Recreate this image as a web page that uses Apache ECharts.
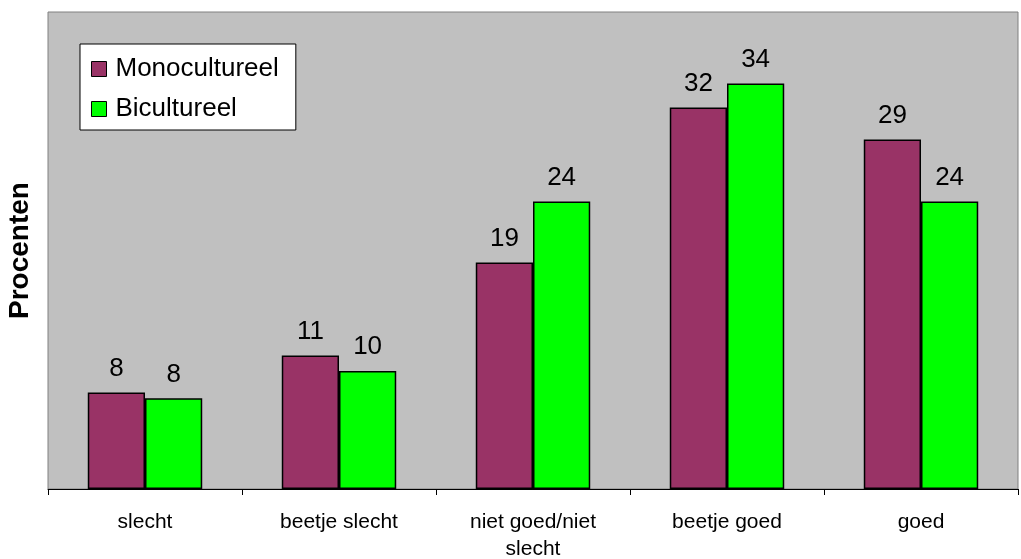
<!DOCTYPE html>
<html>
<head>
<meta charset="utf-8">
<script src="https://cdn.jsdelivr.net/npm/echarts@6/dist/echarts.min.js"></script>
<style>
  html, body { margin: 0; padding: 0; background: #fff; }
  #chart { width: 1021px; height: 559px; }
</style>
</head>
<body>
<div id="chart"></div>
<script>
// categorieen en percentages
var categories = ['slecht', 'beetje slecht', 'niet goed/niet\nslecht', 'beetje goed', 'goed'];
var mono = [8.1, 11.2, 19.0, 32.0, 29.3];
var bi = [7.6, 9.9, 24.1, 34.0, 24.1];

var myChart = echarts.init(document.getElementById('chart'));

var labelStyle = {
    show: true,
    position: 'top',
    distance: 11,
    color: '#000',
    fontSize: 26,
    fontFamily: 'Liberation Sans, Arial',
    formatter: function (p) { return Math.round(p.value); }
};

var option = {
    animation: false,
    backgroundColor: '#fff',
    textStyle: { fontFamily: 'Liberation Sans, Arial' },
    grid: {
        left: 48,
        right: 3,
        top: 12,
        bottom: 70,
        outerBoundsMode: 'none',
        show: true,
        backgroundColor: '#C0C0C0',
        borderColor: '#808080',
        borderWidth: 1
    },
    legend: {
        orient: 'vertical',
        left: 80,
        top: 44,
        backgroundColor: '#fff',
        borderColor: '#000',
        borderWidth: 1,
        padding: [12, 17, 8, 11],
        itemGap: 14,
        itemWidth: 15,
        itemHeight: 15,
        icon: 'rect',
        itemStyle: { borderColor: '#000', borderWidth: 1 },
        textStyle: { fontSize: 26, color: '#000', padding: [0, 0, 0, 4] },
        data: ['Monocultureel', 'Bicultureel']
    },
    xAxis: {
        type: 'category',
        data: categories,
        axisLine: { lineStyle: { color: '#000', width: 1 } },
        axisTick: { show: true, length: 6, lineStyle: { color: '#000' } },
        axisLabel: { color: '#000', fontSize: 21, margin: 20, lineHeight: 27 }
    },
    yAxis: {
        type: 'value',
        min: 0,
        max: 40,
        name: 'Procenten',
        nameLocation: 'middle',
        nameGap: 14,
        nameTextStyle: { fontSize: 28, fontWeight: 'bold', color: '#000' },
        axisLine: { show: false },
        axisTick: { show: false },
        axisLabel: { show: false },
        splitLine: { show: false }
    },
    series: [
        {
            name: 'Monocultureel',
            type: 'bar',
            data: mono,
            barGap: '0%',
            barCategoryGap: '41%',
            itemStyle: { color: '#993366', borderColor: '#000', borderWidth: 1.5 },
            label: labelStyle
        },
        {
            name: 'Bicultureel',
            type: 'bar',
            data: bi,
            itemStyle: { color: '#00FF00', borderColor: '#000', borderWidth: 1.5 },
            label: labelStyle
        }
    ]
};

myChart.setOption(option);
</script>
</body>
</html>
